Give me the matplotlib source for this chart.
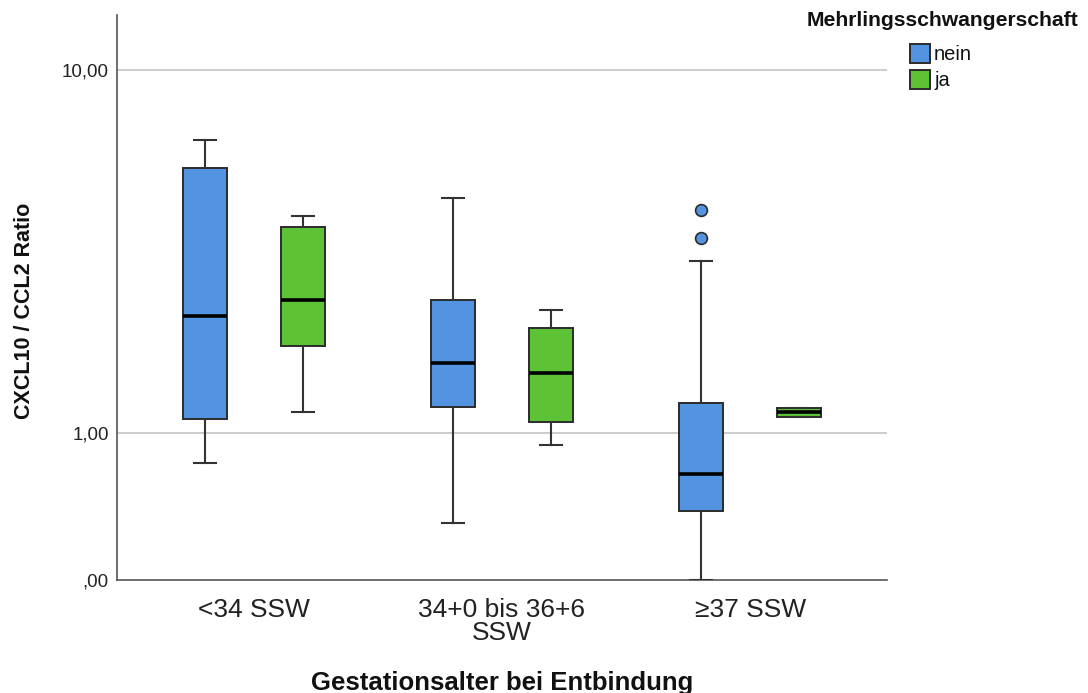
import matplotlib
matplotlib.use("Agg")
import matplotlib.pyplot as plt
from matplotlib.patches import Rectangle
from matplotlib.ticker import FixedLocator, NullLocator

plt.rcParams['font.family'] = ['Liberation Sans', 'DejaVu Sans']

groups = ["<34 SSW", "34+0 bis 36+6\nSSW", "\u226537 SSW"]
hue_labels = ["nein", "ja"]
legend_title = "Mehrlingsschwangerschaft"

# box statistics (log scale)
nein_whislo = [0.824, 0.563, 0.393]
nein_q1 = [1.09, 1.18, 0.607]
nein_med = [2.10, 1.553, 0.772]
nein_q3 = [5.38, 2.32, 1.205]
nein_whishi = [6.43, 4.44, 2.98]
nein_fliers = [[], [], [3.44, 4.12]]

ja_whislo = [1.14, 0.925, 1.109]
ja_q1 = [1.74, 1.068, 1.109]
ja_med = [2.32, 1.461, 1.138]
ja_q3 = [3.69, 1.945, 1.167]
ja_whishi = [3.97, 2.185, 1.167]
ja_fliers = [[], [], []]

y_ticks = [0.3927, 1.0, 10.0]
y_ticklabels = [",00", "1,00", "10,00"]

colors = ["#5294e2", "#5ec237"]
edge = "#2b2b2b"

W, H = 1088, 693
fig = plt.figure(figsize=(W/100, H/100), dpi=100)
ax = fig.add_axes([117/W, 1-580/H, (887-117)/W, (580-15)/H])
ax.set_yscale("log")
ax.set_ylim(0.3927, 14.2)
ax.set_xlim(-0.552, 2.552)

for y in [1.0, 10.0]:
    ax.axhline(y, color="#c4c4c4", lw=1.2, zorder=0)

def make_stats(lo, q1, med, q3, hi, fl):
    out = []
    for i in range(len(lo)):
        out.append(dict(whislo=lo[i], q1=q1[i], med=med[i], q3=q3[i], whishi=hi[i], fliers=fl[i]))
    return out

series = [
    make_stats(nein_whislo, nein_q1, nein_med, nein_q3, nein_whishi, nein_fliers),
    make_stats(ja_whislo, ja_q1, ja_med, ja_q3, ja_whishi, ja_fliers),
]
offsets = [-0.1976, 0.1976]
for k, stats in enumerate(series):
    pos = [i + offsets[k] for i in range(len(groups))]
    ax.bxp(stats, positions=pos, widths=0.18, patch_artist=True, manage_ticks=False,
           boxprops=dict(facecolor=colors[k], edgecolor=edge, linewidth=1.4),
           medianprops=dict(color="black", linewidth=2.6),
           whiskerprops=dict(color="#333333", linewidth=1.5),
           capprops=dict(color="#333333", linewidth=1.5),
           capwidths=0.088,
           flierprops=dict(marker="o", markerfacecolor=colors[k], markeredgecolor=edge,
                           markersize=8.5, markeredgewidth=1.2, linestyle="none"),
           zorder=3)

ax.yaxis.set_major_locator(FixedLocator(y_ticks))
ax.yaxis.set_minor_locator(NullLocator())
ax.set_yticklabels(y_ticklabels)
ax.set_xticks(range(len(groups)))
ax.set_xticklabels(groups, fontsize=19, color="#222222", linespacing=0.95)
ax.tick_params(axis="y", length=0, labelsize=13.5, pad=6, colors="#222222")
ax.tick_params(axis="x", length=0, pad=13)

for s in ["top", "right"]:
    ax.spines[s].set_visible(False)
for s in ["left", "bottom"]:
    ax.spines[s].set_color("#555555")
    ax.spines[s].set_linewidth(1.2)

fig.text(25/W, 1-311/H, "CXCL10 / CCL2 Ratio", rotation=90, fontsize=15.5,
         fontweight="bold", ha="center", va="center", color="#111111")
fig.text(502/W, 1-683/H, "Gestationsalter bei Entbindung", fontsize=18.5,
         fontweight="bold", ha="center", va="center", color="#111111")

# legend (figure-level)
fig.text(942/W, 1-21/H, legend_title, fontsize=15.2, fontweight="bold",
         ha="center", va="center", color="#111111")
patch_tops = [44, 70]
for c, lab, top in zip(colors, hue_labels, patch_tops):
    fig.add_artist(Rectangle((910/W, 1-(top+19)/H), 20/W, 19/H, transform=fig.transFigure,
                             facecolor=c, edgecolor=edge, linewidth=1.4))
    fig.text(934/W, 1-(top+10)/H, lab, fontsize=14.5, ha="left", va="center", color="#111111")

fig.savefig("out.png", dpi=100)
